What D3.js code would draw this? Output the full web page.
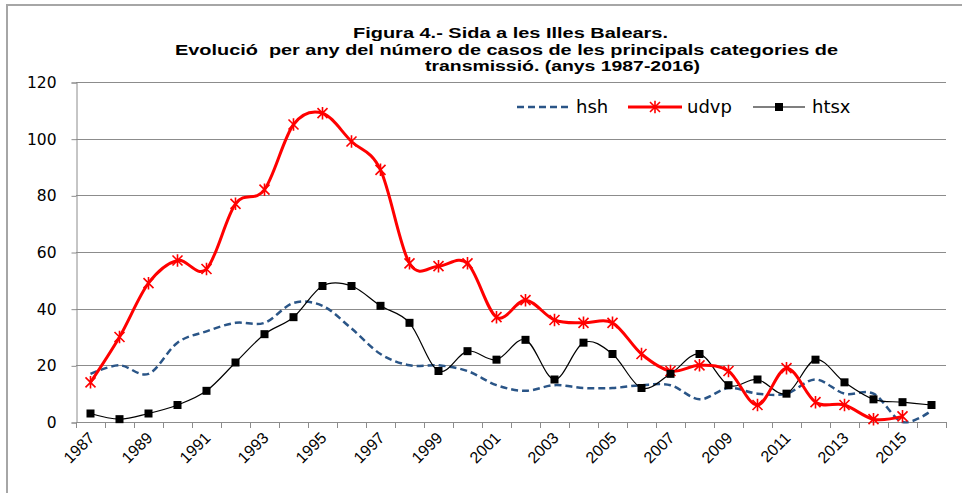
<!DOCTYPE html>
<html>
<head>
<meta charset="utf-8">
<script src="https://cdn.jsdelivr.net/npm/d3@7"></script>
<style>
  html, body { margin: 0; padding: 0; background: #fff; }
  svg { display: block; }
</style>
</head>
<body>
<svg id="chart" width="962" height="493"></svg>
<script>
// ---- data ----
const years = d3.range(1987, 2017).map(String);
const xTickLabels = ["1987","1989","1991","1993","1995","1997","1999","2001","2003","2005","2007","2009","2011","2013","2015"];
const yTicks = [0, 20, 40, 60, 80, 100, 120];
const seriesNames = ["hsh", "udvp", "htsx"];
const hsh  = [17,20,17,28,32,35,35,42,41,33,24,20,20,18,13,11,13,12,12,13,13,8,12,10,10,15,10,10,0,4];
const udvp = [14,30,49,57,54,77,82,105,109,99,89,56,55,56,37,43,36,35,35,24,18,20,18,6,19,7,6,1,2,null];
const htsx = [3,1,3,6,11,21,31,37,48,48,41,35,18,25,22,29,15,28,24,12,17,24,13,15,10,22,14,8,7,6];
const titleLines = [
  "Figura 4.- Sida a les Illes Balears.",
  "Evolució  per any del número de casos de les principals categories de",
  "transmissió. (anys 1987-2016)"
];

(function () {
// ---- layout ----
const svg = d3.select("#chart");
const pLeft = 76, pRight = 946, pTop = 82, pBottom = 422;

// outer border
svg.append("rect").attr("x", 7).attr("y", 5).attr("width", 1000).attr("height", 1000)
  .attr("fill", "none").attr("stroke", "#a6a6a6").attr("stroke-width", 2);

const x = d3.scaleBand().domain(years).range([pLeft, pRight]).padding(0);
const y = d3.scaleLinear().domain([0, 120]).range([pBottom, pTop]);
const cx = d => x(d) + x.bandwidth() / 2;

// gridlines
svg.append("g").selectAll("line").data(yTicks.filter(v => v > 0)).join("line")
  .attr("x1", pLeft).attr("x2", pRight)
  .attr("y1", d => Math.round(y(d)) + 0.5).attr("y2", d => Math.round(y(d)) + 0.5)
  .attr("stroke", "#8c8c8c").attr("stroke-width", 1);

// y axis
const yAxis = d3.axisLeft(y).tickValues(yTicks).tickSize(5).tickPadding(15).tickFormat(d3.format("d"));
const gy = svg.append("g").attr("transform", `translate(${pLeft + 0.5},0.5)`).call(yAxis);
gy.select(".domain").attr("stroke", "#8c8c8c");
gy.selectAll(".tick line").attr("stroke", "#8c8c8c");
gy.selectAll("text").attr("font-family", "DejaVu Sans, Verdana, sans-serif").attr("font-size", 15.5).attr("fill", "#000");

// x axis: ticks at category boundaries
const gx = svg.append("g");
gx.append("line").attr("x1", pLeft).attr("x2", pRight)
  .attr("y1", pBottom + 0.5).attr("y2", pBottom + 0.5).attr("stroke", "#8c8c8c");
gx.selectAll("line.tk").data(years.concat(["end"])).join("line").attr("class", "tk")
  .attr("x1", (d, i) => Math.round(pLeft + i * x.bandwidth()) + 0.5)
  .attr("x2", (d, i) => Math.round(pLeft + i * x.bandwidth()) + 0.5)
  .attr("y1", pBottom).attr("y2", pBottom + 6).attr("stroke", "#8c8c8c");
gx.selectAll("text").data(xTickLabels).join("text")
  .attr("transform", d => `translate(${cx(d) + 1},${pBottom + 13}) rotate(-45)`)
  .attr("text-anchor", "end")
  .attr("dy", "0.35em")
  .attr("font-family", "Liberation Sans, Arial, sans-serif")
  .attr("font-size", 16)
  .attr("fill", "#000")
  .text(d => d);

// lines
const curve = d3.curveCardinal.tension(0);
const mkLine = arr => d3.line()
  .defined((d, i) => arr[i] !== null)
  .x((d, i) => cx(years[i]))
  .y((d, i) => y(arr[i]))
  .curve(curve)(arr);

svg.append("path").attr("d", mkLine(hsh)).attr("fill", "none")
  .attr("stroke", "#2a5587").attr("stroke-width", 2.5).attr("stroke-dasharray", "7,4");

svg.append("path").attr("d", mkLine(htsx)).attr("fill", "none")
  .attr("stroke", "#000").attr("stroke-width", 1.2);

svg.append("path").attr("d", mkLine(udvp)).attr("fill", "none")
  .attr("stroke", "#ff0000").attr("stroke-width", 3);

// markers
function star(g, px, py, r) {
  const d = `M${px - r},${py - r}L${px + r},${py + r}M${px - r},${py + r}L${px + r},${py - r}M${px},${py - r * 1.25}L${px},${py + r * 1.25}`;
  g.append("path").attr("d", d).attr("stroke", "#ff0000").attr("stroke-width", 1.6).attr("fill", "none");
}
const gm = svg.append("g");
udvp.forEach((v, i) => { if (v !== null) star(gm, cx(years[i]), y(v), 5); });
svg.append("g").selectAll("rect").data(htsx).join("rect")
  .attr("x", (d, i) => cx(years[i]) - 4).attr("y", d => y(d) - 4)
  .attr("width", 8).attr("height", 8).attr("fill", "#000");

// legend
const lg = svg.append("g");
const legendItems = [
  { name: seriesNames[0], x1: 517, x2: 570, tx: 576 },
  { name: seriesNames[1], x1: 628, x2: 682, tx: 687 },
  { name: seriesNames[2], x1: 753, x2: 805, tx: 812 }
];
const ly = 107;
lg.append("line").attr("x1", legendItems[0].x1).attr("x2", legendItems[0].x2).attr("y1", ly).attr("y2", ly)
  .attr("stroke", "#2a5587").attr("stroke-width", 2.5).attr("stroke-dasharray", "7,4");
lg.append("line").attr("x1", legendItems[1].x1).attr("x2", legendItems[1].x2).attr("y1", ly).attr("y2", ly)
  .attr("stroke", "#ff0000").attr("stroke-width", 3);
star(lg, (legendItems[1].x1 + legendItems[1].x2) / 2, ly, 5);
lg.append("line").attr("x1", legendItems[2].x1).attr("x2", legendItems[2].x2).attr("y1", ly).attr("y2", ly)
  .attr("stroke", "#000").attr("stroke-width", 1.2);
lg.append("rect").attr("x", (legendItems[2].x1 + legendItems[2].x2) / 2 - 4).attr("y", ly - 4)
  .attr("width", 8).attr("height", 8).attr("fill", "#000");
lg.selectAll("text").data(legendItems).join("text")
  .attr("x", d => d.tx).attr("y", ly).attr("dy", "0.35em")
  .attr("font-family", "DejaVu Sans, Verdana, sans-serif").attr("font-size", 18).attr("fill", "#000")
  .text(d => d.name);

// title (glyphs stretched horizontally, as in the reference)
const titlePos = [
  { x0: 353, x1: 668, y: 38 },
  { x0: 175, x1: 838, y: 54.5 },
  { x0: 425, x1: 700, y: 71 }
];
svg.append("g").selectAll("text").data(titleLines).join("text")
  .attr("x", (d, i) => titlePos[i].x0).attr("y", (d, i) => titlePos[i].y)
  .attr("textLength", (d, i) => titlePos[i].x1 - titlePos[i].x0)
  .attr("lengthAdjust", "spacingAndGlyphs")
  .attr("font-family", "Liberation Sans, Arial, sans-serif")
  .attr("font-weight", "bold").attr("font-size", 14.5)
  .attr("fill", "#000")
  .style("white-space", "pre")
  .text(d => d);
})();
</script>
</body>
</html>
